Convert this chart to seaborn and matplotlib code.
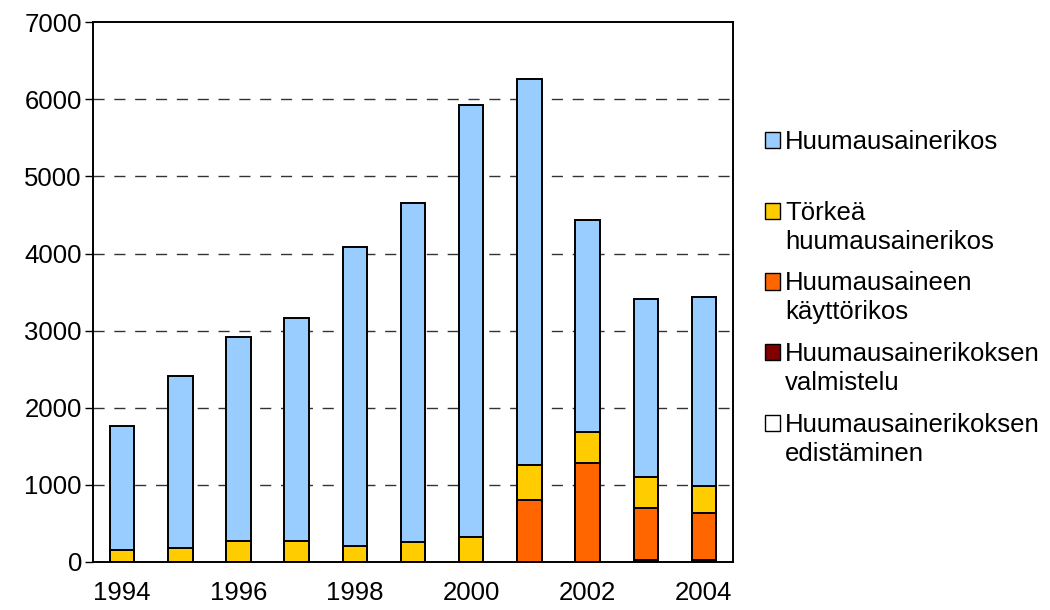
import numpy as np
import pandas as pd
import matplotlib
matplotlib.use("Agg")
import matplotlib.pyplot as plt
from matplotlib.patches import Patch
import seaborn as sns

# data
years = [1994, 1995, 1996, 1997, 1998, 1999, 2000, 2001, 2002, 2003, 2004]
edistaminen = [0, 0, 0, 0, 0, 0, 0, 0, 0, 5, 5]
valmistelu = [0, 0, 0, 0, 0, 0, 0, 0, 0, 15, 15]
kayttorikos = [0, 0, 0, 0, 0, 0, 0, 802, 1285, 675, 618]
torkea = [160, 177, 268, 268, 212, 263, 320, 453, 401, 401, 349]
huumausainerikos = [1607, 2234, 2653, 2895, 3878, 4391, 5602, 5014, 2749, 2312, 2447]

# legend labels: first line / second line
label_1 = ["Huumausainerikos", "Törkeä", "Huumausaineen", "Huumausainerikoksen", "Huumausainerikoksen"]
label_2 = ["", "huumausainerikos", "käyttörikos", "valmistelu", "edistäminen"]
colors = ["#99CCFF", "#FFCC00", "#FF6600", "#800000", "#FFFFFF"]

df = pd.DataFrame({"vuosi": [str(y) for y in years],
                   "edist": edistaminen, "valm": valmistelu, "kaytto": kayttorikos,
                   "torkea": torkea, "huum": huumausainerikos})
# cumulative sums, bottom to top
df["c_edist"] = df["edist"]
df["c_valm"] = df["c_edist"] + df["valm"]
df["c_kaytto"] = df["c_valm"] + df["kaytto"]
df["c_torkea"] = df["c_kaytto"] + df["torkea"]
df["c_huum"] = df["c_torkea"] + df["huum"]

sns.set_theme(style="white")
plt.rcParams["font.family"] = ["Liberation Sans", "DejaVu Sans"]
fs = 18.5

fig = plt.figure(figsize=(10.5, 6.1), dpi=100)
ax = fig.add_axes([0.0886, 0.0787, 0.6095, 0.885])

# draw from top of stack down so lower layers overdraw
for col, c in zip(["c_huum", "c_torkea", "c_kaytto", "c_valm", "c_edist"], colors):
    sns.barplot(data=df, x="vuosi", y=col, color=c, saturation=1, edgecolor="black",
                linewidth=1.4, width=0.42, ax=ax, zorder=3)

ax.set_ylim(0, 7000)
ax.set_xlim(-0.5, len(years) - 0.5)
ax.set_yticks(np.arange(0, 7001, 1000))
ax.set_yticklabels([str(v) for v in range(0, 7001, 1000)], fontsize=fs, color="black")
ax.set_xticks(range(0, len(years), 2))
ax.set_xticklabels([str(y) for y in years[::2]], fontsize=fs, color="black")
ax.set_xticks(np.arange(-0.5, len(years), 1), minor=True)
ax.tick_params(axis="x", which="major", length=0, pad=14)
ax.tick_params(axis="x", which="minor", length=6, width=1, color="black", direction="out")
ax.tick_params(axis="y", length=6, width=1, color="black", direction="out", pad=2, left=True)
ax.set_xlabel("")
ax.set_ylabel("")

for v in range(1000, 7000, 1000):
    ax.axhline(v, color="#333333", linewidth=1, linestyle=(0, (8, 7)), zorder=1)

for s in ax.spines.values():
    s.set_color("black")
    s.set_linewidth(1.4)

handles = [Patch(facecolor=c, edgecolor="black", linewidth=1) for c in colors]
leg = fig.legend(handles, label_1, loc="upper left", bbox_to_anchor=(0.716, 0.808),
                 frameon=False, fontsize=fs, handlelength=0.6, handleheight=0.6,
                 handletextpad=0.2, labelspacing=1.82, borderpad=0, labelcolor="black")

# second lines of the legend labels, placed under the first lines
fig.canvas.draw()
inv = fig.transFigure.inverted()
for t, second in zip(leg.get_texts(), label_2):
    if not second:
        continue
    bb = t.get_window_extent()
    x0, y0 = inv.transform((bb.x0, bb.y0 - 29))
    fig.text(x0, y0, second, fontsize=fs, color="black", ha="left", va="bottom")

fig.savefig("out.png", dpi=100)
